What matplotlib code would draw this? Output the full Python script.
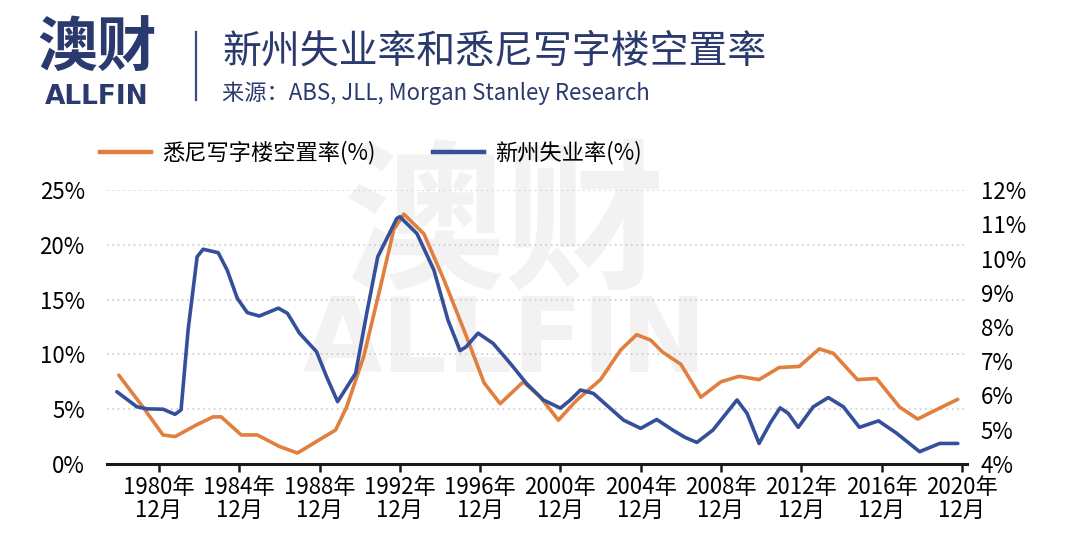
import matplotlib
matplotlib.use('Agg')
import matplotlib.pyplot as plt
from matplotlib.lines import Line2D

plt.rcParams['font.family'] = ['Noto Sans CJK SC', 'DejaVu Sans']

# 悉尼写字楼空置率 (%), 左轴
office_years = [1978.0, 1979.2, 1980.2, 1980.8, 1981.9, 1982.7, 1983.1, 1984.1, 1984.9,
                1986.0, 1986.9, 1987.8, 1988.8, 1989.35, 1990.2, 1991.0, 1991.7, 1992.2,
                1993.2, 1994.2, 1995.2, 1996.2, 1997.0, 1998.15, 1999.0, 1999.9, 2000.8,
                2002.0, 2003.0, 2003.8, 2004.5, 2005.1, 2006.0, 2007.0, 2008.0, 2008.9,
                2009.9, 2010.9, 2011.9, 2012.9, 2013.6, 2014.8, 2015.75, 2016.9, 2017.8,
                2018.9, 2019.8]
office_vacancy = [8.1, 5.2, 2.65, 2.5, 3.6, 4.3, 4.3, 2.65, 2.65,
                  1.6, 1.0, 2.0, 3.1, 5.2, 9.8, 15.9, 21.4, 22.8,
                  21.0, 16.8, 12.2, 7.4, 5.5, 7.5, 6.1, 4.0, 5.8,
                  7.7, 10.4, 11.8, 11.3, 10.2, 9.1, 6.1, 7.5, 8.0,
                  7.7, 8.8, 8.9, 10.5, 10.1, 7.7, 7.8, 5.2, 4.1,
                  5.1, 5.9]

# 新州失业率 (%), 右轴
unemp_years = [1977.9, 1978.9, 1979.4, 1980.2, 1980.8, 1981.1, 1981.45, 1981.9, 1982.2,
               1982.95, 1983.4, 1983.9, 1984.4, 1985.0, 1985.95, 1986.4, 1987.0, 1987.85,
               1988.35, 1988.9, 1989.8, 1990.35, 1990.9, 1991.85, 1992.0, 1992.85, 1993.7,
               1994.4, 1995.0, 1995.3, 1995.9, 1996.65, 1997.5, 1998.3, 1999.15, 2000.0,
               2000.5, 2001.0, 2001.65, 2002.3, 2003.15, 2004.0, 2004.8, 2005.6, 2006.2,
               2006.8, 2007.6, 2008.8, 2009.3, 2009.9, 2010.45, 2010.95, 2011.35, 2011.85,
               2012.6, 2013.35, 2014.1, 2014.9, 2015.85, 2016.75, 2017.9, 2018.9, 2019.8]
unemployment = [6.11, 5.67, 5.61, 5.6, 5.45, 5.58, 7.91, 10.05, 10.27,
                10.17, 9.66, 8.84, 8.42, 8.32, 8.55, 8.4, 7.82, 7.28,
                6.55, 5.82, 6.65, 8.4, 10.05, 11.17, 11.22, 10.73, 9.66,
                8.2, 7.31, 7.42, 7.82, 7.52, 6.94, 6.36, 5.87, 5.63,
                5.87, 6.16, 6.06, 5.72, 5.28, 5.04, 5.3, 4.99, 4.78,
                4.63, 4.99, 5.87, 5.48, 4.6, 5.19, 5.64, 5.48, 5.07,
                5.67, 5.94, 5.67, 5.07, 5.26, 4.9, 4.36, 4.6, 4.6]

tick_years = [1980, 1984, 1988, 1992, 1996, 2000, 2004, 2008, 2012, 2016, 2020]
tick_labels = [f'{y}年\n12月' for y in tick_years]
left_ticks = [0, 5, 10, 15, 20, 25]
right_ticks = [4, 5, 6, 7, 8, 9, 10, 11, 12]

orange = '#e07f3e'
blue = '#35509a'
navy = '#2b3a6e'

W, H = 1067, 551
fig = plt.figure(figsize=(W / 100, H / 100), dpi=100, facecolor='white')

# 背景水印 (画在坐标轴下面)
fig.text(505 / W, 1 - 228 / H, '澳财', fontsize=116, fontweight='heavy', color='#f2f2f2',
         ha='center', va='center', zorder=-5)
fig.text(505 / W, 1 - 343 / H, 'ALLFIN', fontsize=74, fontweight='bold', color='#f2f2f2',
         ha='center', va='center', family='DejaVu Sans', zorder=-5)

ax = fig.add_axes([107 / W, 1 - 464 / H, 860 / W, 274 / H])
ax.patch.set_alpha(0)
ax2 = ax.twinx()

ax.plot(office_years, office_vacancy, color=orange, lw=2.6, solid_joinstyle='round',
        solid_capstyle='round', zorder=3)
ax2.plot(unemp_years, unemployment, color=blue, lw=2.6, solid_joinstyle='round',
         solid_capstyle='round', zorder=3)

ax.set_xlim(1977.41, 2020.26)
ax.set_ylim(0, 25)
ax2.set_ylim(4, 12)

ax.set_yticks(left_ticks)
ax.set_yticklabels([f'{v}%' for v in left_ticks])
ax2.set_yticks(right_ticks)
ax2.set_yticklabels([f'{v}%' for v in right_ticks])
ax.set_xticks(tick_years)
ax.set_xticklabels(tick_labels, linespacing=0.95)

for a in (ax, ax2):
    for s in ('top', 'left', 'right'):
        a.spines[s].set_visible(False)
ax2.spines['bottom'].set_visible(False)
ax.spines['bottom'].set_linewidth(2.2)
ax.spines['bottom'].set_color('#1a1a1a')

ax.tick_params(axis='x', direction='out', length=6, width=1.8, color='#1a1a1a',
               labelsize=16, pad=3)
ax.tick_params(axis='y', length=0, labelsize=16, pad=16)
ax2.tick_params(axis='y', length=0, labelsize=16, pad=10)

ax.yaxis.grid(True, linestyle=(0, (1, 2.5)), color='#c4c4c4', linewidth=1.1)
ax.set_axisbelow(True)
for gl in ax.yaxis.get_gridlines()[:1]:
    gl.set_visible(False)

# 图例
handles = [Line2D([], [], color=orange, lw=3.2), Line2D([], [], color=blue, lw=3.2)]
fig.legend(handles, ['悉尼写字楼空置率(%)', '新州失业率(%)'], loc='center left',
           bbox_to_anchor=(100 / W, 1 - 153 / H), ncol=2, frameon=False, fontsize=16,
           handlelength=2.3, handletextpad=0.5, columnspacing=2.6,
           borderpad=0, borderaxespad=0)

# 标题区
fig.text(222 / W, 1 - 52 / H, '新州失业率和悉尼写字楼空置率', fontsize=28, color=navy,
         va='center', ha='left', fontweight='medium')
fig.text(222 / W, 1 - 93 / H, '来源：ABS, JLL, Morgan Stanley Research', fontsize=16,
         color=navy, va='center', ha='left')

# 标志
fig.text(97 / W, 1 - 50 / H, '澳财', fontsize=43, fontweight='heavy', color=navy,
         ha='center', va='center')
fig.text(97 / W, 1 - 97 / H, 'ALLFIN', fontsize=19, fontweight='bold', color=navy,
         ha='center', va='center', family='DejaVu Sans')
fig.add_artist(Line2D([196 / W, 196 / W], [1 - 32 / H, 1 - 100 / H], color='#3f4a78', lw=1.6))

fig.savefig('out.png', dpi=100, facecolor='white')
